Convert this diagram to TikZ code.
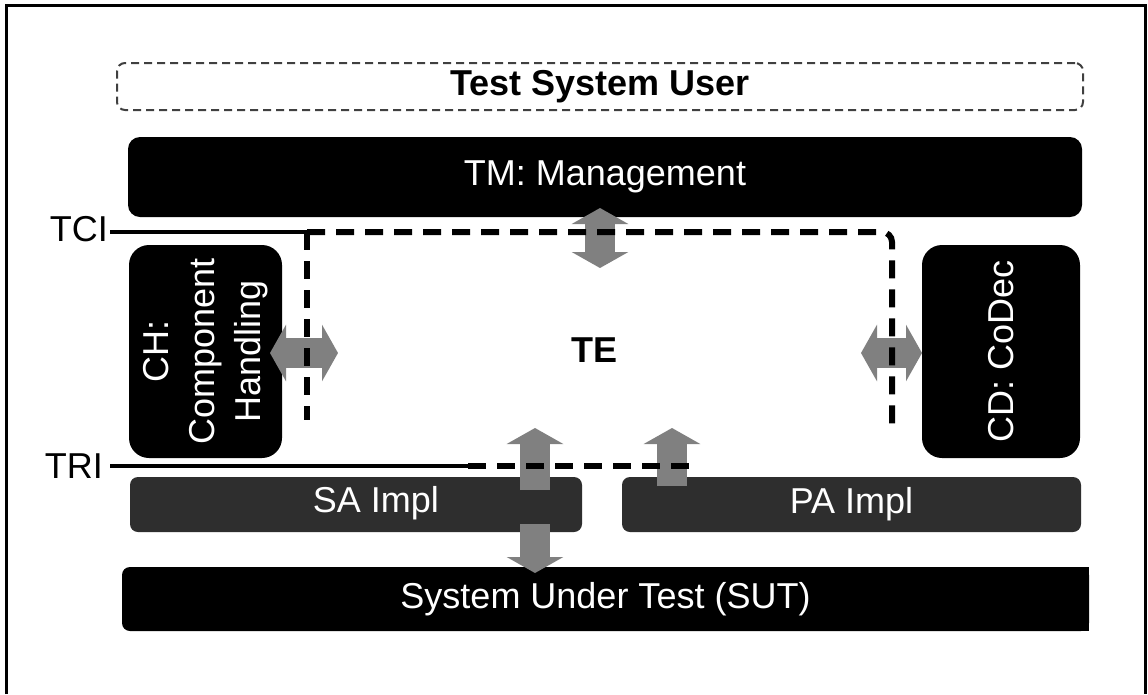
\documentclass[tikz,border=0pt]{standalone}
\usepackage{fontspec}
\setmainfont{Liberation Sans}
\usetikzlibrary{arrows.meta}
\tikzset{
  lbl/.style={inner sep=0pt, font=\fontsize{36}{46}\selectfont},
  blk/.style={lbl, fill=black, text=white, rounded corners=12pt},
  implbox/.style={lbl, fill=black!82, text=white, rounded corners=8pt},
  userbox/.style={lbl, draw=black!75, line width=2pt, dash pattern=on 8pt off 5pt, rounded corners=8pt},
  ifline/.style={line width=4pt},
  ifdash/.style={line width=6pt, dash pattern=on 18pt off 11pt},
  flowbase/.style={line width=30pt, draw=black!50},
  flow/.style={flowbase, {Triangle[width=56pt,length=16pt]}-{Triangle[width=56pt,length=16pt]}},
  flowend/.style={flowbase, -{Triangle[width=56pt,length=16pt]}}
}
\begin{document}
\begin{tikzpicture}[x=1pt,y=-1pt]
\useasboundingbox (0,0) rectangle (1148,694);
\fill[white] (0,0) rectangle (1148,694);
% outer frame (open at the bottom)
\draw[line width=3pt] (6,694) -- (6,5) -- (1145.5,5) -- (1145.5,694);

% blocks
\node[userbox, minimum width=966, minimum height=47] (user) at (600,86.5) {\bfseries Test System User};
\node[blk, minimum width=954, minimum height=80] (tm) at (605,177) {TM: Management};
\node[blk, rotate=90, rounded corners=20pt, minimum width=213, minimum height=153, align=center]
  (ch) at (205.5,351.5) {CH:\\Component\\Handling};
\node[blk, rotate=90, rounded corners=20pt, minimum width=213, minimum height=158]
  (cd) at (1001,351.5) {CD: CoDec};
\node[implbox, minimum width=452, minimum height=55] (sa) at (356,504.5) {};
\node[lbl, text=white] (salbl) at (376,503) {SA Impl};
\node[implbox, minimum width=459, minimum height=55] (pa) at (851.5,504.5) {PA Impl};
\node[blk, rounded corners=8pt, minimum width=967, minimum height=64] (sut) at (605.5,599) {System Under Test (SUT)};
\fill[black] ([xshift=-12pt]sut.north east) rectangle (sut.south east);
\node[lbl, font=\fontsize{36}{46}\selectfont\bfseries] (te) at (594,350) {TE};

% interface labels
\node[lbl, anchor=east] (tci) at (108,229) {TCI};
\node[lbl, anchor=east] (tri) at (103,466) {TRI};

% anchor points of the interface lines and flows
\coordinate (tciL) at (110,232);
\coordinate (tciC) at (307,232);
\coordinate (tciR) at (892,232);
\coordinate (lEnd) at (307,420);
\coordinate (rEnd) at (892,433);
\coordinate (triL) at (110,466);
\coordinate (triM) at (468,466);
\coordinate (triR) at (700,466);

\coordinate (f1a) at (600,208);  \coordinate (f1b) at (600,268);
\coordinate (f2a) at (270,353);  \coordinate (f2b) at (338,353);
\coordinate (f3a) at (861,353);  \coordinate (f3b) at (922,353);
\coordinate (f4a) at (535,428);  \coordinate (f4b) at (535,490);
\coordinate (f5a) at (672,428);  \coordinate (f5b) at (672,486);
\coordinate (f6a) at (535,524);  \coordinate (f6b) at (535,573);

% flows between components
\draw[flow] (f1a) -- (f1b);
\draw[flow] (f2a) -- (f2b);
\draw[flow] (f3a) -- (f3b);
\draw[flowend] (f4b) -- (f4a);
\draw[flowend] (f5b) -- (f5a);
\draw[flowend] (f6a) -- (f6b);

% TCI and TRI interfaces
\draw[ifline] (tciL) -- (tciC);
\draw[ifdash] (tciC) -- (lEnd);
\draw[ifdash, rounded corners=10pt] (tciC) -- (tciR) -- (rEnd);
\draw[ifline] (triL) -- (triM);
\draw[ifdash] (triM) -- (triR);
\end{tikzpicture}
\end{document}
